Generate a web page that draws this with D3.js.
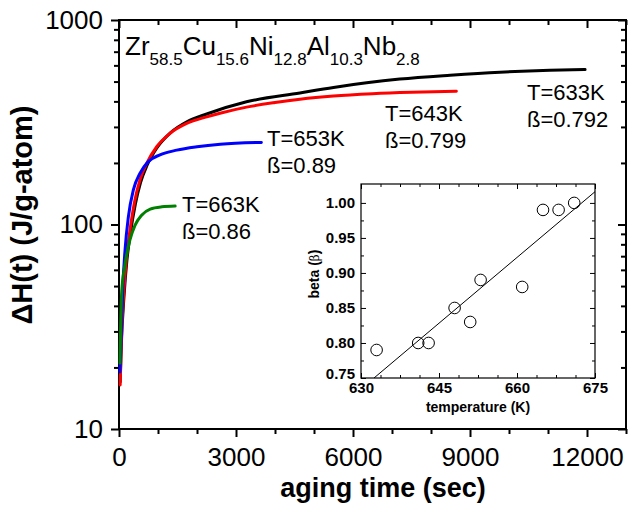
<!DOCTYPE html>
<html>
<head>
<meta charset="utf-8">
<script src="https://cdn.jsdelivr.net/npm/d3@7"></script>
<style>
  body { margin: 0; background: #fff; }
  svg { display: block; font-family: "Liberation Sans", Arial, sans-serif; }
</style>
</head>
<body>
<div id="chart"></div>
<script>
// main panel: enthalpy release vs aging time, one curve per temperature
const t633  = [30, 60, 130, 200, 290, 420, 550, 720, 970, 1310, 1740, 2250, 3270, 4640, 5500, 6350, 7200, 8490, 9770, 11050, 11950];
const dh633 = [17, 26, 45, 66, 90, 126, 160, 195, 237, 280, 318, 347, 398, 440, 468, 493, 514, 537, 556, 568, 572];
const t643  = [30, 60, 128, 197, 282, 410, 538, 710, 967, 1308, 1736, 2249, 2590, 3270, 4000, 4640, 5500, 6500, 7500, 8650];
const dh643 = [16.4, 27, 48, 70, 94, 132, 165, 199, 240, 279, 312, 336, 350, 375, 395, 410, 425, 436, 443, 448];
const t653  = [25, 60, 95, 155, 240, 370, 540, 750, 1050, 1480, 2000, 2600, 3650];
const dh653 = [19, 30, 48, 75, 109, 148, 178, 203, 219, 231, 240, 247, 252];
const t663  = [25, 40, 70, 150, 280, 410, 580, 800, 1100, 1440];
const dh663 = [21, 30, 47, 63, 84, 99, 111, 119, 122, 123];

const timeTicks = [0, 3000, 6000, 9000, 12000];
const dhTicks = [10, 100, 1000];

// curve annotations: temperature and stretch exponent
const labelTemps = ['T=633K', 'T=643K', 'T=653K', 'T=663K'];
const labelBetas = ['ß=0.792', 'ß=0.799', 'ß=0.89', 'ß=0.86'];
const labelAtT  = [10460, 6820, 3795, 1615];
const labelAtDh = [406, 320, 242, 115];

// alloy composition (element, at.%)
const elements = ['Zr', 'Cu', 'Ni', 'Al', 'Nb'];
const fractions = ['58.5', '15.6', '12.8', '10.3', '2.8'];

// inset: beta vs temperature with a linear fit
const insetTemp = [633, 641, 643, 648, 651, 653, 661, 665, 668, 671];
const insetBeta = [0.79, 0.80, 0.80, 0.85, 0.83, 0.89, 0.88, 0.99, 0.99, 1.00];
const fitTemp = [632.5, 675];
const fitBeta = [0.75, 1.016];
const insetTempTicks = [630, 645, 660, 675];
const insetBetaTicks = [0.75, 0.80, 0.85, 0.90, 0.95, 1.00];

const W = 630, H = 508;
const svg = d3.select('#chart').append('svg')
    .attr('width', W)
    .attr('height', H);

const x = d3.scaleLinear().domain([0, 13000]).range([119, 626]);
const y = d3.scaleLog().domain([10, 1000]).range([429, 20]);

// minor ticks
const xMinor = d3.range(0, 13001, 1000).filter(d => d % 3000 !== 0);
const yMinor = [];
[10, 100].forEach(dec => { for (let k = 2; k <= 9; k++) yMinor.push(dec * k); });

function styleAxis(g, size) {
    g.select('.domain').remove();
    g.selectAll('.tick line').attr('stroke', '#000').attr('stroke-width', 2);
    g.selectAll('.tick text').attr('font-size', size).attr('fill', '#000')
        .attr('font-family', '"Liberation Sans", Arial, sans-serif');
}

// bottom
svg.append('g').attr('transform', 'translate(0,429)')
    .call(d3.axisBottom(x).tickValues(timeTicks).tickSize(8).tickPadding(11).tickFormat(d3.format('d')))
    .call(g => styleAxis(g, '26px'));
svg.append('g').attr('transform', 'translate(0,429)')
    .call(d3.axisBottom(x).tickValues(xMinor).tickSize(5).tickFormat(''))
    .call(g => styleAxis(g, '0px'));
// top (inward)
svg.append('g').attr('transform', 'translate(0,20)')
    .call(d3.axisTop(x).tickValues(timeTicks).tickSize(-8).tickFormat(''))
    .call(g => styleAxis(g, '0px'));
svg.append('g').attr('transform', 'translate(0,20)')
    .call(d3.axisTop(x).tickValues(xMinor).tickSize(-5).tickFormat(''))
    .call(g => styleAxis(g, '0px'));
// left
svg.append('g').attr('transform', 'translate(119,0)')
    .call(d3.axisLeft(y).tickValues(dhTicks).tickSize(8).tickPadding(8).tickFormat(d3.format('d')))
    .call(g => styleAxis(g, '26px'));
svg.append('g').attr('transform', 'translate(119,0)')
    .call(d3.axisLeft(y).tickValues(yMinor).tickSize(5).tickFormat(''))
    .call(g => styleAxis(g, '0px'));
// right (inward)
svg.append('g').attr('transform', 'translate(626,0)')
    .call(d3.axisRight(y).tickValues(dhTicks).tickSize(-8).tickFormat(''))
    .call(g => styleAxis(g, '0px'));
svg.append('g').attr('transform', 'translate(626,0)')
    .call(d3.axisRight(y).tickValues(yMinor).tickSize(-5).tickFormat(''))
    .call(g => styleAxis(g, '0px'));

svg.append('rect')
    .attr('x', 119).attr('y', 20)
    .attr('width', 626 - 119).attr('height', 429 - 20)
    .attr('fill', 'none').attr('stroke', '#000').attr('stroke-width', 2);

// curves
const curves = [
    { t: t633, dh: dh633, color: '#000000' },
    { t: t643, dh: dh643, color: '#ff0000' },
    { t: t653, dh: dh653, color: '#0000ff' },
    { t: t663, dh: dh663, color: '#008000' }
];
const line = d3.line()
    .x(d => x(d[0]))
    .y(d => y(d[1]))
    .curve(d3.curveMonotoneX);

svg.selectAll('.curve')
    .data(curves)
    .enter().append('path')
    .attr('class', 'curve')
    .attr('d', c => line(c.t.map((t, i) => [t, c.dh[i]])))
    .attr('fill', 'none')
    .attr('stroke', c => c.color)
    .attr('stroke-width', 3)
    .attr('stroke-linecap', 'round');

// curve labels
labelTemps.forEach((txt, i) => {
    const lx = x(labelAtT[i]), ly = y(labelAtDh[i]);
    svg.append('text').attr('x', lx).attr('y', ly)
        .attr('font-size', '22px').text(txt);
    svg.append('text').attr('x', lx).attr('y', ly + 27)
        .attr('font-size', '22px').text(labelBetas[i]);
});

// alloy title with subscripts
const title = svg.append('text').attr('x', 125).attr('y', 55).attr('font-size', '26px');
elements.forEach((el, i) => {
    title.append('tspan').attr('dy', i === 0 ? 0 : -10).text(el);
    title.append('tspan').attr('font-size', '17px').attr('dy', 10).text(fractions[i]);
});

// axis titles
svg.append('text')
    .attr('x', 383).attr('y', 497)
    .attr('text-anchor', 'middle')
    .attr('font-size', '27px').attr('font-weight', 'bold')
    .text('aging time (sec)');
svg.append('text')
    .attr('transform', 'translate(32,215) rotate(-90)')
    .attr('text-anchor', 'middle')
    .attr('font-size', '29px').attr('font-weight', 'bold')
    .text('ΔH(t) (J/g-atom)');

// inset
const ix = d3.scaleLinear().domain([630, 675]).range([361, 595]);
const iy = d3.scaleLinear().domain([0.75, 1.027]).range([378, 184]);
const ins = svg.append('g');

ins.append('rect')
    .attr('x', 361).attr('y', 184)
    .attr('width', 595 - 361).attr('height', 378 - 184)
    .attr('fill', '#fff');

const ixMinor = d3.range(630, 675.01, 3.75).filter(d => !insetTempTicks.includes(d));
const iyMinor = d3.range(0.775, 1.02, 0.05);

function styleInset(g, size) {
    g.select('.domain').remove();
    g.selectAll('.tick line').attr('stroke', '#000').attr('stroke-width', 1);
    g.selectAll('.tick text').attr('font-size', size).attr('font-weight', 'bold').attr('fill', '#000')
        .attr('font-family', '"Liberation Sans", Arial, sans-serif');
}

ins.append('g').attr('transform', 'translate(0,378)')
    .call(d3.axisBottom(ix).tickValues(insetTempTicks).tickSizeInner(-5).tickSizeOuter(0).tickPadding(4).tickFormat(d3.format('d')))
    .call(g => styleInset(g, '15px'));
ins.append('g').attr('transform', 'translate(0,378)')
    .call(d3.axisBottom(ix).tickValues(ixMinor).tickSizeInner(-3).tickSizeOuter(0).tickFormat(''))
    .call(g => styleInset(g, '0px'));
ins.append('g').attr('transform', 'translate(0,184)')
    .call(d3.axisTop(ix).tickValues(insetTempTicks).tickSizeInner(-5).tickSizeOuter(0).tickFormat(''))
    .call(g => styleInset(g, '0px'));
ins.append('g').attr('transform', 'translate(0,184)')
    .call(d3.axisTop(ix).tickValues(ixMinor).tickSizeInner(-3).tickSizeOuter(0).tickFormat(''))
    .call(g => styleInset(g, '0px'));
ins.append('g').attr('transform', 'translate(361,0)')
    .call(d3.axisLeft(iy).tickValues(insetBetaTicks).tickSizeInner(-5).tickSizeOuter(0).tickPadding(6).tickFormat(d3.format('.2f')))
    .call(g => styleInset(g, '15px'))
    .call(g => g.selectAll('.tick text').filter(d => d === 0.75).attr('dy', '0.05em'));
ins.append('g').attr('transform', 'translate(361,0)')
    .call(d3.axisLeft(iy).tickValues(iyMinor).tickSizeInner(-3).tickSizeOuter(0).tickFormat(''))
    .call(g => styleInset(g, '0px'));
ins.append('g').attr('transform', 'translate(595,0)')
    .call(d3.axisRight(iy).tickValues(insetBetaTicks).tickSizeInner(-5).tickSizeOuter(0).tickFormat(''))
    .call(g => styleInset(g, '0px'));
ins.append('g').attr('transform', 'translate(595,0)')
    .call(d3.axisRight(iy).tickValues(iyMinor).tickSizeInner(-3).tickSizeOuter(0).tickFormat(''))
    .call(g => styleInset(g, '0px'));

ins.append('rect')
    .attr('x', 361).attr('y', 184)
    .attr('width', 595 - 361).attr('height', 378 - 184)
    .attr('fill', 'none').attr('stroke', '#000').attr('stroke-width', 1.2);

ins.append('line')
    .attr('x1', ix(fitTemp[0])).attr('y1', iy(fitBeta[0]))
    .attr('x2', ix(fitTemp[1])).attr('y2', iy(fitBeta[1]))
    .attr('stroke', '#000').attr('stroke-width', 1);

ins.selectAll('circle')
    .data(insetTemp)
    .enter().append('circle')
    .attr('cx', d => ix(d))
    .attr('cy', (d, i) => iy(insetBeta[i]))
    .attr('r', 5.8)
    .attr('fill', 'none')
    .attr('stroke', '#000')
    .attr('stroke-width', 1);

ins.append('text')
    .attr('x', 478).attr('y', 412)
    .attr('text-anchor', 'middle')
    .attr('font-size', '14px').attr('font-weight', 'bold')
    .text('temperature (K)');
const bl = ins.append('text')
    .attr('transform', 'translate(319,274) rotate(-90)')
    .attr('text-anchor', 'middle')
    .attr('font-size', '14px').attr('font-weight', 'bold');
bl.append('tspan').text('beta (');
bl.append('tspan').attr('font-weight', 'normal').attr('font-family', '"DejaVu Serif", serif').attr('font-size', '12px').text('β');
bl.append('tspan').text(')');
</script>
</body>
</html>
